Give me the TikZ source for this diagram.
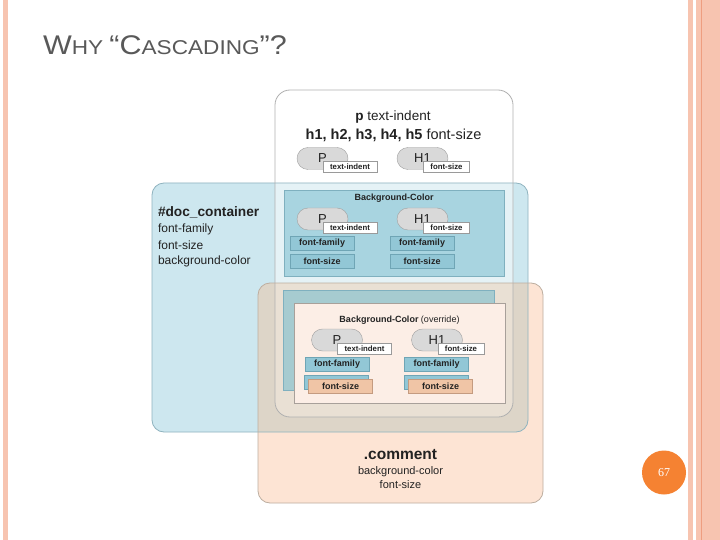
\documentclass[tikz,border=0pt]{standalone}
\usepackage{fontspec}
\setmainfont{Liberation Sans}
\newfontfamily\numfont{Liberation Serif}
\newcommand{\px}[1]{\fontsize{#1}{#1}\selectfont}
\definecolor{stripe}{HTML}{F7C4B0}
\definecolor{stripedark}{HTML}{EE9E80}
\definecolor{titlegray}{HTML}{595959}
\definecolor{txt}{HTML}{222222}
\definecolor{docblue}{HTML}{CDE7EF}
\definecolor{docrim}{HTML}{8FB3BF}
\definecolor{mixblue}{HTML}{E5F2F6}
\definecolor{rulesrim}{HTML}{B0B0B0}
\definecolor{peach}{HTML}{FDE4D4}
\definecolor{peachrim}{HTML}{BDAEA0}
\definecolor{tan}{HTML}{DDD5C8}
\definecolor{lighttan}{HTML}{E9E0D4}
\definecolor{bgblue}{HTML}{A8D4E0}
\definecolor{bgrim}{HTML}{7FB0BF}
\definecolor{oldblue}{HTML}{A6CBD0}
\definecolor{overfill}{HTML}{FCEEE6}
\definecolor{overrim}{HTML}{A8A09A}
\definecolor{pillgray}{HTML}{D9D9D9}
\definecolor{pillrim}{HTML}{A0A0A0}
\definecolor{tagrim}{HTML}{9A9A9A}
\definecolor{propblue}{HTML}{92C7D6}
\definecolor{proprim}{HTML}{6FA5B5}
\definecolor{proporange}{HTML}{F0C5A6}
\definecolor{orangerim}{HTML}{C49B80}
\definecolor{pnorange}{HTML}{F58232}
\begin{document}
\begin{tikzpicture}[x=1pt,y=-1pt]
\def\rad{12pt}
\tikzset{base/.style={inner sep=0,outer sep=0,text=txt},
area/.style={base,rounded corners=\rad},
rim/.style={rounded corners=\rad,line width=0.8pt},
pill/.style={base,draw=pillrim,fill=pillgray,rounded corners=11pt,minimum width=51pt,minimum height=22pt,font=\px{13}},
tag/.style={base,draw=tagrim,fill=white,minimum height=11pt,font=\px{7.8}\bfseries},
prop/.style={base,draw=proprim,fill=propblue,minimum width=64pt,minimum height=14pt,font=\px{9}\bfseries},
hot/.style={prop,draw=orangerim,fill=proporange}}
\useasboundingbox (0,0) rectangle (720,540);
\fill[white] (0,0) rectangle (720,540);
\fill[stripe] (2.5,0) rectangle (8,540);
\fill[stripe] (688,0) rectangle (693,540);
\fill[stripe] (696,0) rectangle (720,540);
\draw[stripedark] (701.5,0) -- (701.5,540);
\node[base,anchor=base west,text=titlegray,xscale=1.13,transform shape] at (43,54.5) (TITLE) {\px{27}W\px{20}HY \px{27}“C\px{20}ASCADING\px{27}”?};
\node[area,fill=docblue,minimum width=376pt,minimum height=249pt] at (340,307.5) (DOC) {};
\node[area,fill=white,rounded corners=15pt,minimum width=238pt,minimum height=327pt] at (394,253.5) (RULES) {};
\begin{scope}
\clip[rounded corners=\rad] (DOC.north west) rectangle (DOC.south east);
\fill[mixblue,rounded corners=15pt] (RULES.north west) rectangle (RULES.south east);
\end{scope}
\node[area,fill=peach,minimum width=285pt,minimum height=220pt] at (400.5,393) (COMMENT) {};
\begin{scope}
\clip[rounded corners=\rad] (DOC.north west) rectangle (DOC.south east);
\fill[tan,rounded corners=\rad] (COMMENT.north west) rectangle (COMMENT.south east);
\clip[rounded corners=15pt] (RULES.north west) rectangle (RULES.south east);
\fill[lighttan,rounded corners=\rad] (COMMENT.north west) rectangle (COMMENT.south east);
\end{scope}
\draw[rim,docrim] (DOC.north west) rectangle (DOC.south east);
\draw[rim,rulesrim,rounded corners=15pt] (RULES.north west) rectangle (RULES.south east);
\draw[rim,peachrim] (COMMENT.north west) rectangle (COMMENT.south east);
\node[base,font=\px{13.5}] at (393,117) (PRULE) {\textbf{p} text-indent};
\node[base,font=\px{14.5}] at (393.5,135) (HRULE) {\textbf{h1, h2, h3, h4, h5} font-size};
\node[base,anchor=west,font=\px{13.7}\bfseries] at (158,212) (DOCNAME) {\#doc\_container};
\node[base,anchor=west,font=\px{12}] at (158,229.5) (DOCFAM) {font-family};
\node[base,anchor=west,font=\px{12}] at (158,245.5) (DOCSIZE) {font-size};
\node[base,anchor=west,font=\px{12}] at (158,261) (DOCBG) {background-color};
\node[base,draw=bgrim,fill=bgblue,minimum width=220pt,minimum height=86pt] at (394,233) (BG) {};
\node[base,font=\px{9}\bfseries] at (394,198) (BGTITLE) {Background-Color};
\node[base,draw=bgrim,fill=oldblue,minimum width=211pt,minimum height=100pt] at (388.5,340) (OLD) {};
\node[base,draw=overrim,fill=overfill,minimum width=211pt,minimum height=100pt] at (399.5,353) (OVER) {};
\node[base,font=\px{9}] at (399.5,320) (OVERTITLE) {\textbf{Background-Color} (override)};
\foreach \n/\x/\y in {top/322.5/158.5,doc/322.5/219,over/337/340}{
\node[pill] at (\x,\y) (P\n) {P};
\node[tag,minimum width=54pt] at ([shift={(27.5,8.5)}]P\n.center) (PT\n) {text-indent};
\node[pill] at (\x+100,\y) (H\n) {H1};
\node[tag,minimum width=46pt] at ([shift={(24,8.5)}]H\n.center) (HT\n) {font-size};
}
\node[prop] at (322,243.5) (FAMa) {font-family};
\node[prop] at (422,243.5) (FAMb) {font-family};
\node[prop] at (322,261) (SIZEa) {font-size};
\node[prop] at (422,261) (SIZEb) {font-size};
\node[prop] at (337,364) (FAMc) {font-family};
\node[prop] at (436.5,364) (FAMd) {font-family};
\node[prop] at (336.5,382.5) (SIZEc) {};
\node[hot] at (340.5,386.5) (HOTc) {font-size};
\node[prop] at (436.5,382.5) (SIZEd) {};
\node[hot] at (440.5,386.5) (HOTd) {font-size};
\node[base,font=\px{15.5}\bfseries] at (400.5,455) (CNAME) {.comment};
\node[base,font=\px{11}] at (400.5,471.5) (CBG) {background-color};
\node[base,font=\px{11}] at (400.5,485) (CSIZE) {font-size};
\node[circle,fill=pnorange,minimum size=44pt,inner sep=0,text=white,font=\numfont\px{12}] at (664,472.5) (PAGE) {67};
\end{tikzpicture}
\end{document}
